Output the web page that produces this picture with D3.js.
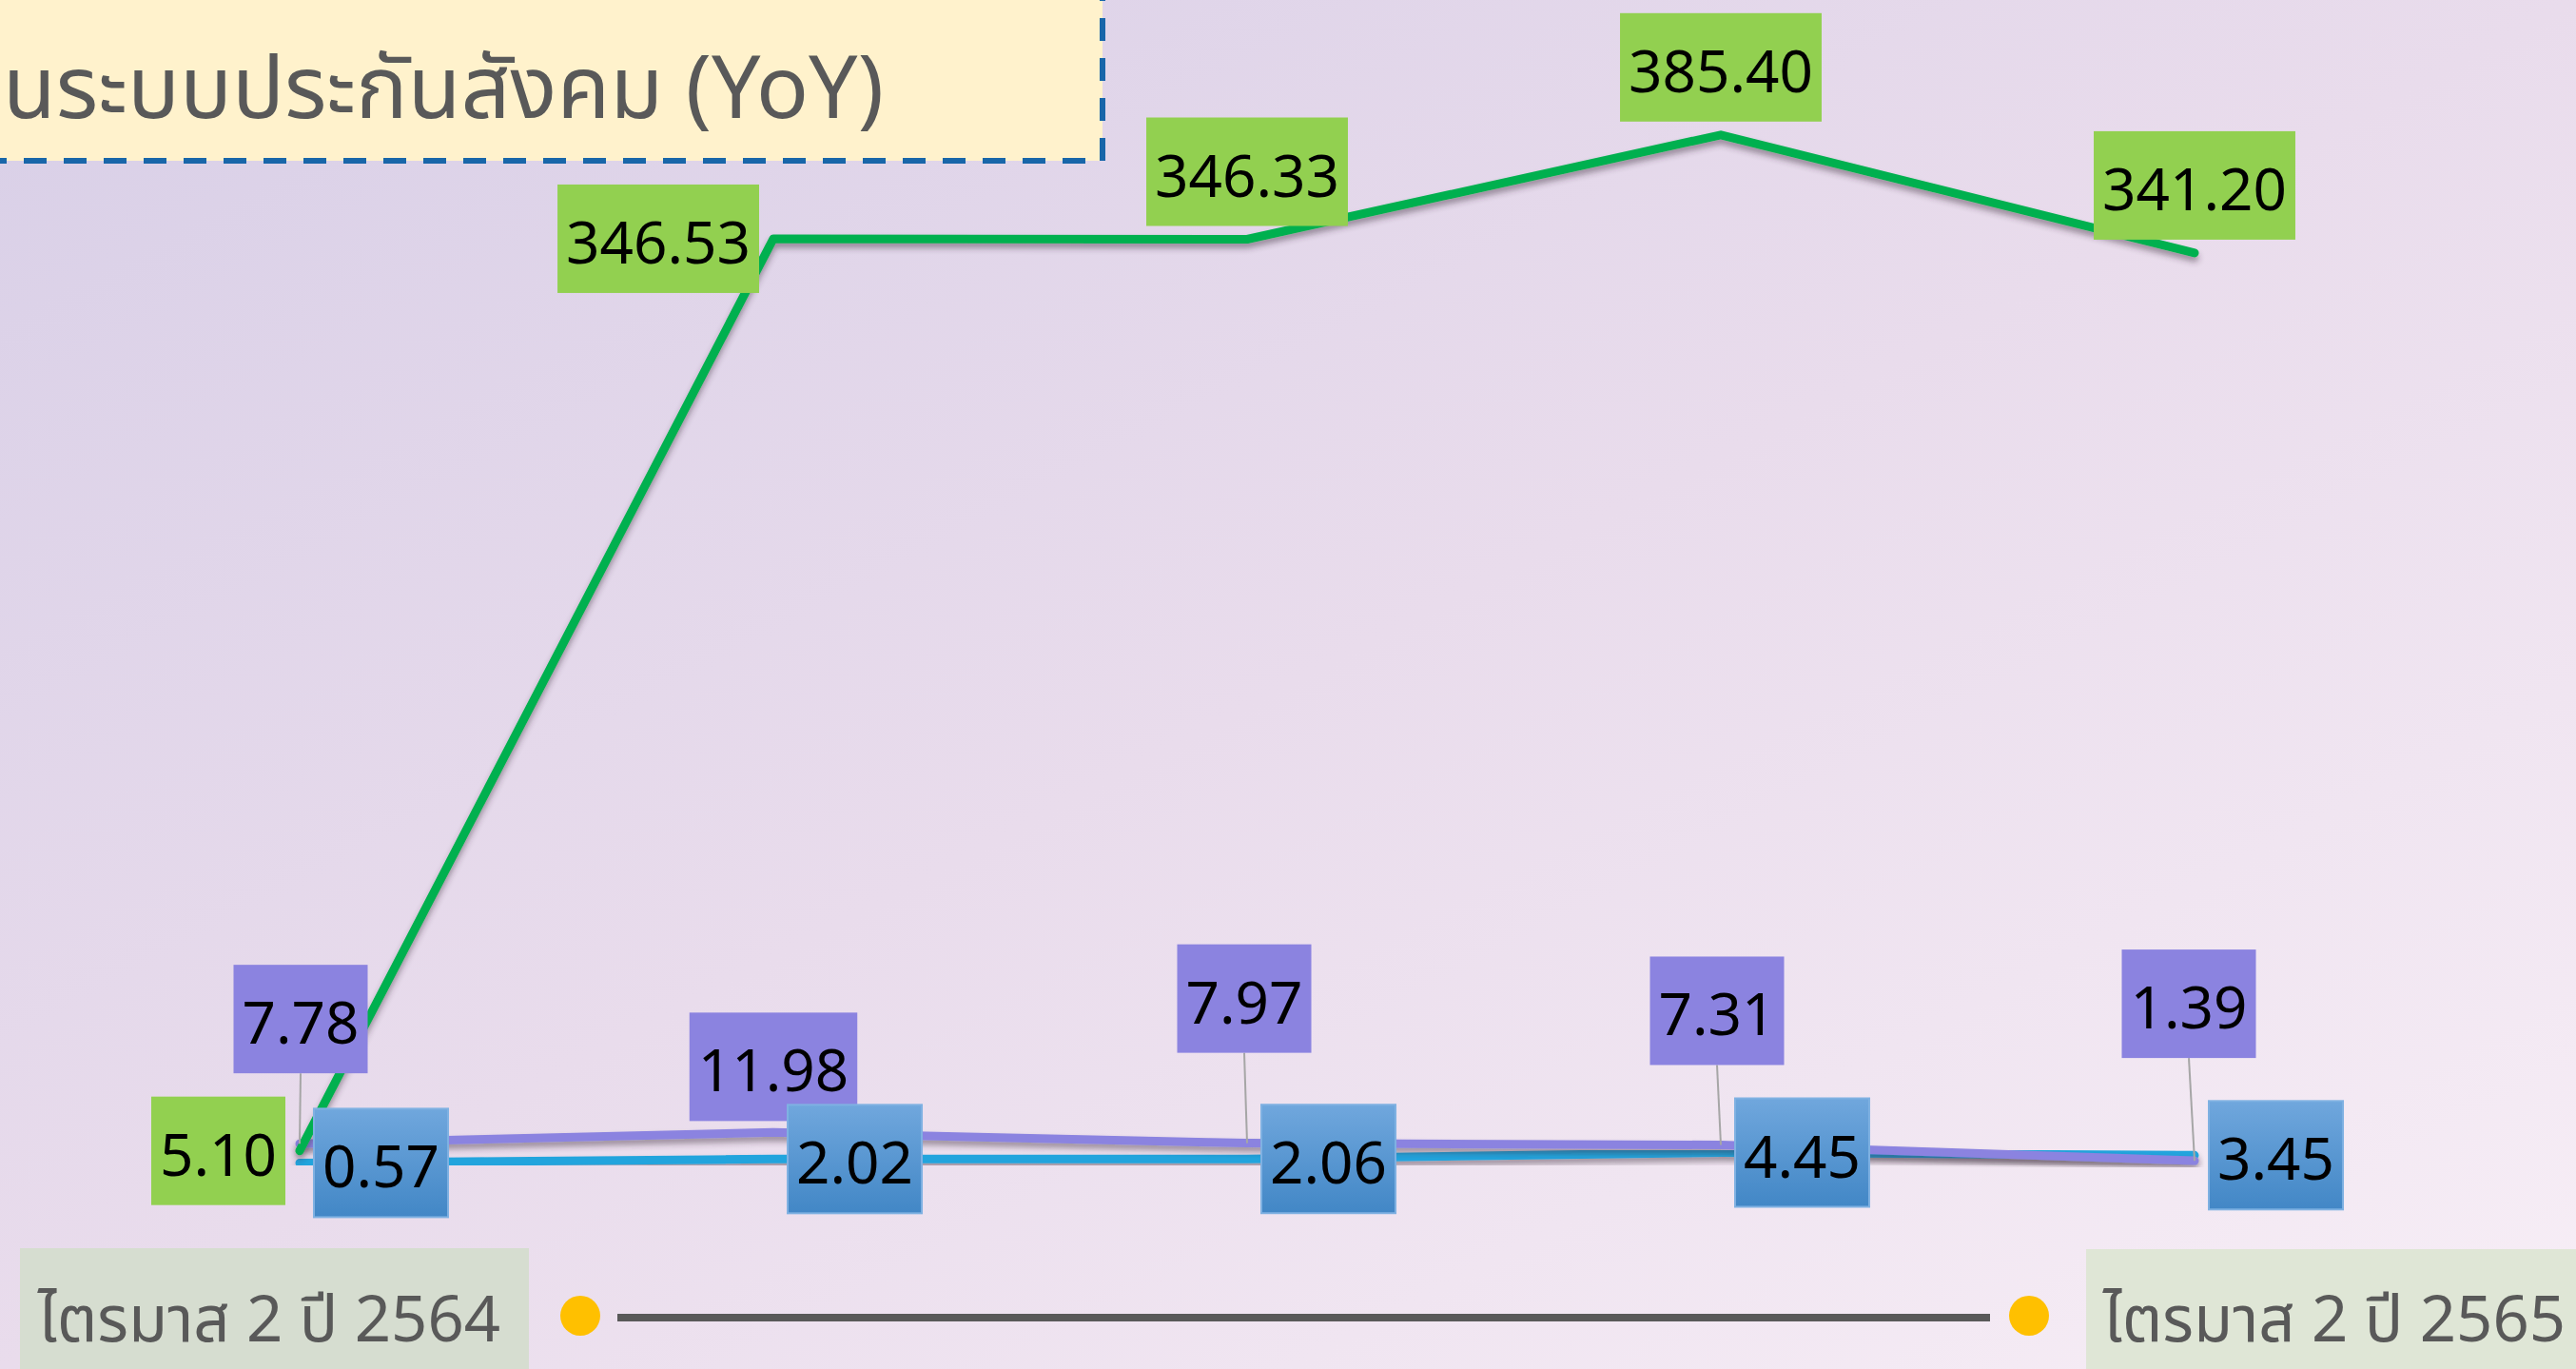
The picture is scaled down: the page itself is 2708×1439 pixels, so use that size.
<!DOCTYPE html>
<html>
<head>
<meta charset="utf-8">
<script src="https://cdn.jsdelivr.net/npm/d3@7"></script>
<style>
    body { margin: 0; overflow: hidden; }
    svg { display: block; }
</style>
</head>
<body>
<svg id="chart"></svg>
<script>
// data
const quarters = ["Q2/2564", "Q3/2564", "Q4/2564", "Q1/2565", "Q2/2565"];
const greenValues = [5.10, 346.53, 346.33, 385.40, 341.20];
const purpleValues = [7.78, 11.98, 7.97, 7.31, 1.39];
const blueValues = [0.57, 2.02, 2.06, 4.45, 3.45];
const titleText = "นระบบประกันสังคม (YoY)";
const startLabel = "ไตรมาส 2 ปี 2564";
const endLabel = "ไตรมาส 2 ปี 2565";

// label layout (Excel labels were dragged by hand)
const greenPlacement = ["left", "left", "above", "above", "above"];
const purpleLift = [74, 12, 95, 84, 108];
const purpleShift = [1, 0, -3, -4, -6];

const width = 2708, height = 1439;
const labelFont = "'Noto Sans', 'Open Sans', sans-serif";
const thaiFont = "'Noto Sans Thai', 'Noto Sans Thai UI', 'Leelawadee UI', 'Noto Sans', sans-serif";

const svg = d3.select("#chart")
    .attr("width", width)
    .attr("height", height);

const defs = svg.append("defs");

const bg = defs.append("linearGradient")
    .attr("id", "bg")
    .attr("x1", 0).attr("y1", 0)
    .attr("x2", 1).attr("y2", 1);
bg.append("stop").attr("offset", 0).attr("stop-color", "#d8cfe7");
bg.append("stop").attr("offset", 0.5).attr("stop-color", "#e9dcec");
bg.append("stop").attr("offset", 1).attr("stop-color", "#f7eef6");

const blueFill = defs.append("linearGradient")
    .attr("id", "blueFill")
    .attr("x1", 0).attr("y1", 0)
    .attr("x2", 0).attr("y2", 1);
blueFill.append("stop").attr("offset", 0).attr("stop-color", "#70a7dd");
blueFill.append("stop").attr("offset", 1).attr("stop-color", "#4287c6");

const shadow = defs.append("filter")
    .attr("id", "shadow")
    .attr("x", "-5%").attr("y", "-20%")
    .attr("width", "110%").attr("height", "140%");
shadow.append("feDropShadow")
    .attr("dx", 0).attr("dy", 5)
    .attr("stdDeviation", 3)
    .attr("flood-color", "#3a2a3a")
    .attr("flood-opacity", 0.45);

svg.append("rect")
    .attr("width", width)
    .attr("height", height)
    .attr("fill", "url(#bg)");

// title box, cut off at the top and left
svg.append("rect")
    .attr("x", -20)
    .attr("y", -20)
    .attr("width", 1179)
    .attr("height", 189)
    .attr("fill", "#fff2cc")
    .attr("stroke", "#1866a9")
    .attr("stroke-width", 6)
    .attr("stroke-dasharray", "24 18");

svg.append("text")
    .attr("x", 3)
    .attr("y", 124)
    .attr("text-anchor", "start")
    .attr("font-family", thaiFont)
    .attr("font-size", 91)
    .attr("fill", "#595959")
    .text(titleText);

// scales
const x = d3.scalePoint()
    .domain(quarters)
    .range([315, 2307]);

const y = d3.scaleLinear()
    .domain([0, 400])
    .range([1224, 1224 - 400 * 2.808]);

const line = d3.line()
    .x((d, i) => x(quarters[i]))
    .y(d => y(d));

const series = [
    { id: "blue", values: blueValues, color: "#22a4dd" },
    { id: "purple", values: purpleValues, color: "#8b83e0" },
    { id: "green", values: greenValues, color: "#00b050" }
];

svg.append("g")
    .selectAll("path")
    .data(series)
    .join("path")
    .attr("d", d => line(d.values))
    .attr("fill", "none")
    .attr("stroke", d => d.color)
    .attr("stroke-width", 9)
    .attr("stroke-linejoin", "round")
    .attr("stroke-linecap", "round")
    .attr("filter", "url(#shadow)");

// data labels
const labelHeight = 114;
const labelLayer = svg.append("g")
    .attr("font-family", labelFont)
    .attr("font-size", 62);

const addLabel = (value, cx, cy, place, fill, lift = 14, shift = 0, stroke = null) => {
    const g = labelLayer.append("g");
    const box = g.append("rect");
    const txt = g.append("text")
        .attr("text-anchor", "middle")
        .attr("dominant-baseline", "central")
        .attr("fill", "#000")
        .text(value.toFixed(2));
    const w = txt.node().getComputedTextLength() + 18;
    let bx, by;
    if (place === "left") {
        bx = cx - 15 - w;
        by = cy - labelHeight / 2;
    } else if (place === "right") {
        bx = cx + 15;
        by = cy - labelHeight / 2;
    } else {
        bx = cx + shift - w / 2;
        by = cy - lift - labelHeight;
    }
    box.attr("x", bx).attr("y", by)
        .attr("width", w).attr("height", labelHeight)
        .attr("fill", fill);
    if (stroke) box.attr("stroke", stroke).attr("stroke-width", 2);
    txt.attr("x", bx + w / 2).attr("y", by + labelHeight / 2 + 2);
    return { bx, by, w };
};

// leader lines for the dragged purple labels
purpleValues.forEach((v, i) => {
    const cx = x(quarters[i]);
    const cy = y(v);
    if (purpleLift[i] > 30) {
        labelLayer.append("line")
            .attr("x1", cx + purpleShift[i])
            .attr("y1", cy - purpleLift[i])
            .attr("x2", cx)
            .attr("y2", cy)
            .attr("stroke", "#a6a6a6")
            .attr("stroke-width", 2);
    }
});

greenValues.forEach((v, i) => {
    addLabel(v, x(quarters[i]), y(v), greenPlacement[i], "#92d050", 14);
});
purpleValues.forEach((v, i) => {
    addLabel(v, x(quarters[i]), y(v), "above", "#8b83e0", purpleLift[i], purpleShift[i]);
});
blueValues.forEach((v, i) => {
    addLabel(v, x(quarters[i]), y(v), "right", "url(#blueFill)", 0, 0, "#7fb1e2");
});

// timeline at the bottom
const timeline = svg.append("g");

timeline.append("rect")
    .attr("x", 21).attr("y", 1312)
    .attr("width", 535).attr("height", 140)
    .attr("fill", "#d6ddd0");

timeline.append("rect")
    .attr("x", 2193).attr("y", 1313)
    .attr("width", 540).attr("height", 140)
    .attr("fill", "#dfe6d6");

timeline.append("line")
    .attr("x1", 649).attr("y1", 1385)
    .attr("x2", 2092).attr("y2", 1385)
    .attr("stroke", "#595959")
    .attr("stroke-width", 8);

timeline.selectAll("circle")
    .data([610, 2133])
    .join("circle")
    .attr("cx", d => d)
    .attr("cy", 1383)
    .attr("r", 21)
    .attr("fill", "#ffc000");

timeline.selectAll("text")
    .data([{ t: startLabel, x: 40 }, { t: endLabel, x: 2211 }])
    .join("text")
    .attr("x", d => d.x)
    .attr("y", 1410)
    .attr("font-family", thaiFont)
    .attr("font-size", 67)
    .attr("fill", "#595959")
    .text(d => d.t);
</script>
</body>
</html>
